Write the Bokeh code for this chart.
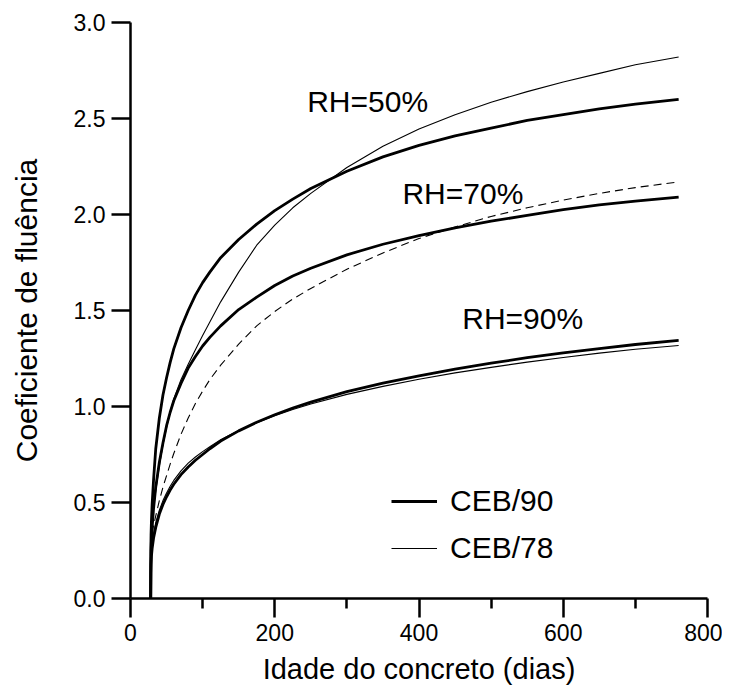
from bokeh.plotting import figure
from bokeh.models import Range1d, FixedTicker, NumeralTickFormatter, Label, Legend, LegendItem
from bokeh.embed import file_html
from bokeh.resources import INLINE

# Idade do concreto (dias)
idade = [28, 28.2, 28.5, 29, 30, 32, 35, 40, 45, 50, 55, 60, 70, 80, 90, 100, 110, 125, 150,
         175, 200, 225, 250, 300, 350, 400, 450, 500, 550, 600, 650, 700, 760]

# CEB/90 (thick lines)
ceb90_rh50 = [0, 0.25, 0.33, 0.40, 0.49, 0.62, 0.78, 0.94, 1.06, 1.15, 1.23, 1.30, 1.41, 1.50, 1.58,
              1.645, 1.70, 1.775, 1.87, 1.95, 2.02, 2.08, 2.135, 2.225, 2.30, 2.36, 2.41, 2.45,
              2.49, 2.52, 2.55, 2.575, 2.60]
ceb90_rh70 = [0, 0.17, 0.24, 0.30, 0.37, 0.47, 0.58, 0.71, 0.81, 0.90, 0.97, 1.03, 1.12, 1.20, 1.26,
              1.315, 1.36, 1.42, 1.505, 1.57, 1.63, 1.68, 1.72, 1.79, 1.845, 1.89, 1.93, 1.965,
              1.995, 2.025, 2.05, 2.07, 2.09]
ceb90_rh90 = [0, 0.13, 0.18, 0.22, 0.26, 0.315, 0.37, 0.44, 0.49, 0.53, 0.565, 0.595, 0.645, 0.685,
              0.72, 0.75, 0.78, 0.82, 0.873, 0.918, 0.957, 0.992, 1.023, 1.077, 1.122, 1.16, 1.195,
              1.226, 1.254, 1.279, 1.302, 1.323, 1.344]

# CEB/78 (thin lines)
ceb78_rh50 = [0, 0.30, 0.33, 0.36, 0.40, 0.47, 0.56, 0.69, 0.80, 0.89, 0.97, 1.04, 1.14, 1.22, 1.295,
              1.37, 1.44, 1.545, 1.70, 1.84, 1.945, 2.035, 2.11, 2.245, 2.355, 2.445, 2.52, 2.585,
              2.64, 2.69, 2.735, 2.78, 2.82]
ceb78_rh70 = [0, 0.27, 0.29, 0.31, 0.34, 0.38, 0.43, 0.51, 0.58, 0.64, 0.70, 0.755, 0.855, 0.94,
              1.015, 1.08, 1.14, 1.215, 1.325, 1.42, 1.495, 1.56, 1.615, 1.715, 1.80, 1.875, 1.935,
              1.99, 2.035, 2.075, 2.11, 2.14, 2.17]
ceb78_rh90 = [0, 0.24, 0.26, 0.28, 0.30, 0.34, 0.395, 0.46, 0.51, 0.55, 0.585, 0.615, 0.665, 0.705,
              0.737, 0.765, 0.79, 0.827, 0.875, 0.916, 0.952, 0.984, 1.013, 1.063, 1.105, 1.142,
              1.175, 1.204, 1.231, 1.255, 1.278, 1.298, 1.318]

x_ticks = [0, 200, 400, 600, 800]
x_minor = [100, 300, 500, 700]
y_ticks = [0.0, 0.5, 1.0, 1.5, 2.0, 2.5, 3.0]

rh_labels = ["RH=50%", "RH=70%", "RH=90%"]
legend_labels = ["CEB/90", "CEB/78"]

FONT = "Liberation Sans"

p = figure(width=722, height=689, output_backend="svg", toolbar_location=None,
           x_range=Range1d(0, 800), y_range=Range1d(0, 3.0),
           min_border_left=130, min_border_right=15, min_border_top=22, min_border_bottom=91)
p.outline_line_color = None
p.xgrid.visible = False
p.ygrid.visible = False
p.background_fill_color = "white"
p.border_fill_color = "white"

for ax in (p.xaxis[0], p.yaxis[0]):
    ax.axis_line_width = 2.5
    ax.axis_line_color = "black"
    ax.major_tick_line_width = 2.5
    ax.minor_tick_line_width = 2.5
    ax.major_tick_line_color = "black"
    ax.minor_tick_line_color = "black"
    ax.major_tick_in = 0
    ax.minor_tick_in = 0
    ax.major_tick_out = 19
    ax.minor_tick_out = 10
    ax.major_label_text_font = FONT
    ax.major_label_text_font_size = "23px"
    ax.major_label_text_color = "black"
    ax.axis_label_text_font = FONT
    ax.axis_label_text_font_style = "normal"
    ax.axis_label_text_color = "black"

p.xaxis.axis_label_text_font_size = "29px"
p.yaxis.axis_label_text_font_size = "30px"
p.xaxis.ticker = FixedTicker(ticks=x_ticks, minor_ticks=x_minor)
p.yaxis.ticker = FixedTicker(ticks=y_ticks)
p.yaxis.minor_tick_line_color = None
p.yaxis.formatter = NumeralTickFormatter(format="0.0")
p.xaxis.major_label_standoff = 6
p.yaxis.major_label_standoff = 6
p.xaxis.axis_label = "Idade do concreto (dias)"
p.yaxis.axis_label = "Coeficiente de fluência"
p.xaxis.axis_label_standoff = 9
p.yaxis.axis_label_standoff = 28

r90 = None
for ys in (ceb90_rh50, ceb90_rh70, ceb90_rh90):
    r = p.line(idade, ys, line_color="black", line_width=2.8, line_join="round")
    r90 = r90 or r
r78 = p.line(idade, ceb78_rh50, line_color="black", line_width=1.1)
p.line(idade, ceb78_rh70, line_color="black", line_width=1.1, line_dash="8 5")
p.line(idade, ceb78_rh90, line_color="black", line_width=1.1)

label_pos = [(245, 2.59), (377, 2.11), (460, 1.46)]
for txt, (lx, ly) in zip(rh_labels, label_pos):
    p.add_layout(Label(x=lx, y=ly, text=txt, text_font=FONT, text_font_size="30px",
                       text_baseline="middle", text_color="black"))

legend = Legend(items=[LegendItem(label=legend_labels[0], renderers=[r90]),
                       LegendItem(label=legend_labels[1], renderers=[r78])],
                location=(261, 30), orientation="vertical",
                label_text_font=FONT, label_text_font_size="30px", label_text_color="black",
                glyph_width=46, glyph_height=40, label_height=40, spacing=7,
                label_standoff=13, padding=0, margin=0,
                border_line_color=None, background_fill_alpha=0)
p.add_layout(legend, "center")

open("out.html", "w").write(file_html(p, INLINE))
